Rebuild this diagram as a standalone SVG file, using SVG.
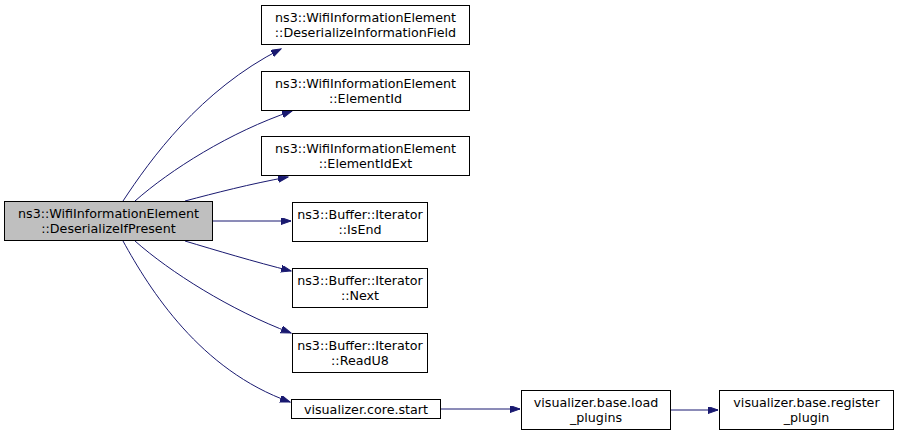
<svg xmlns="http://www.w3.org/2000/svg" width="899" height="436" viewBox="0 0 899 436">
<style>
.node rect{fill:#ffffff;stroke:#000000;stroke-width:1}
.node.main rect{fill:#bfbfbf}
text{font-family:"DejaVu Sans","Liberation Sans",sans-serif;font-size:12.7px;fill:#000000;text-anchor:middle}
.edges path{fill:none;stroke:#191970;stroke-width:1}
</style>
<defs>
<marker id="arr" markerWidth="11" markerHeight="8" refX="10" refY="3.5" orient="auto" markerUnits="userSpaceOnUse">
<polygon points="0,0 10,3.5 0,7" fill="#191970" stroke="#191970"/>
</marker>
</defs>
<rect width="899" height="436" fill="#ffffff"/>
<g class="edges">
<path d="M123,201 C150,160 200,90 281,49" marker-end="url(#arr)"/>
<path d="M135,201 C170,170 230,132 292,111" marker-end="url(#arr)"/>
<path d="M185,201 C215,193 250,184 288,177" marker-end="url(#arr)"/>
<path d="M213,221 L291,221" marker-end="url(#arr)"/>
<path d="M185,241 C215,250 255,262 291,271" marker-end="url(#arr)"/>
<path d="M135,241 C170,272 230,310 291,333" marker-end="url(#arr)"/>
<path d="M123,241 C150,290 200,370 290,402" marker-end="url(#arr)"/>
<path d="M441,409 L520,409" marker-end="url(#arr)"/>
<path d="M671,410 L718,410" marker-end="url(#arr)"/>
</g>
<g id="node1" class="node main"><rect x="4.5" y="201.5" width="208" height="39"/><text x="108.5" y="217.5">ns3::WifiInformationElement</text><text x="108.5" y="232.5">::DeserializeIfPresent</text></g>
<g id="node2" class="node"><rect x="261.5" y="5.5" width="208" height="39"/><text x="365.5" y="21.5">ns3::WifiInformationElement</text><text x="365.5" y="36.5">::DeserializeInformationField</text></g>
<g id="node3" class="node"><rect x="261.5" y="71.5" width="208" height="39"/><text x="365.5" y="87.5">ns3::WifiInformationElement</text><text x="365.5" y="102.5">::ElementId</text></g>
<g id="node4" class="node"><rect x="261.5" y="136.5" width="208" height="39"/><text x="365.5" y="152.5">ns3::WifiInformationElement</text><text x="365.5" y="167.5">::ElementIdExt</text></g>
<g id="node5" class="node"><rect x="292.5" y="202.5" width="135" height="39"/><text x="360" y="218.5">ns3::Buffer::Iterator</text><text x="360" y="233.5">::IsEnd</text></g>
<g id="node6" class="node"><rect x="292.5" y="268.5" width="135" height="39"/><text x="360" y="284.5">ns3::Buffer::Iterator</text><text x="360" y="299.5">::Next</text></g>
<g id="node7" class="node"><rect x="292.5" y="333.5" width="135" height="39"/><text x="360" y="349.5">ns3::Buffer::Iterator</text><text x="360" y="364.5">::ReadU8</text></g>
<g id="node8" class="node"><rect x="291.5" y="399.5" width="149" height="19"/><text x="366" y="413.5">visualizer.core.start</text></g>
<g id="node9" class="node"><rect x="521.5" y="390.5" width="149" height="39"/><text x="596" y="406.5">visualizer.base.load</text><text x="596" y="421.5">_plugins</text></g>
<g id="node10" class="node"><rect x="719.5" y="390.5" width="174" height="39"/><text x="806.5" y="406.5">visualizer.base.register</text><text x="806.5" y="421.5">_plugin</text></g>
</svg>
